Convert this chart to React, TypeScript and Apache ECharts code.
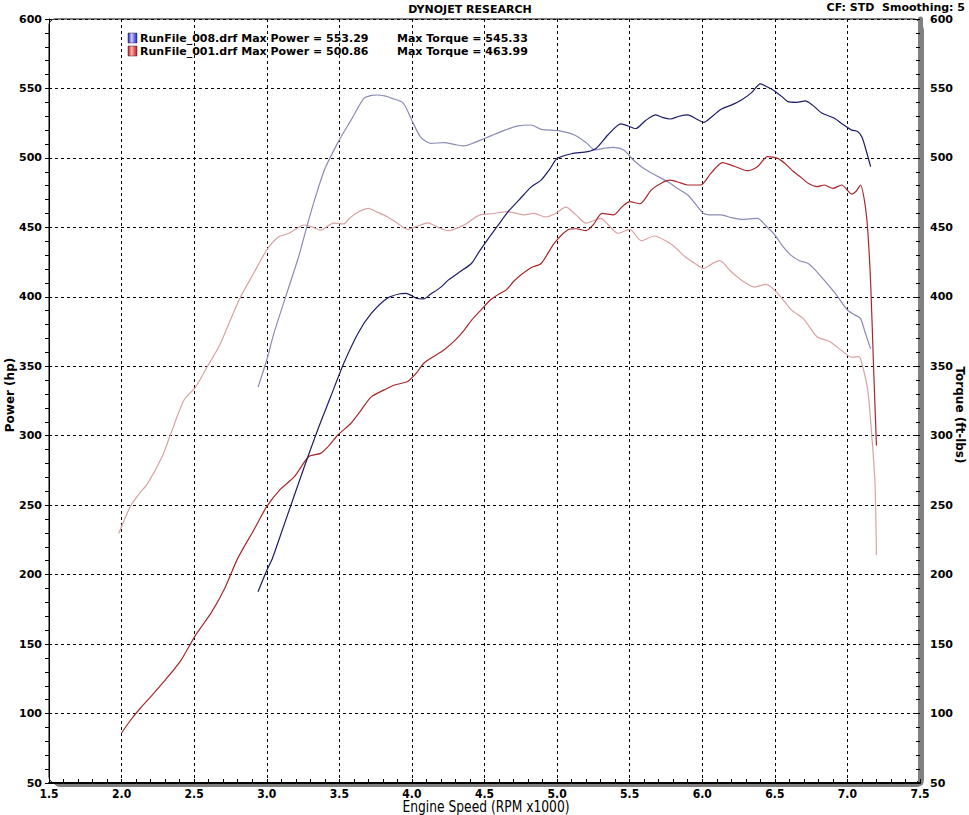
import React, { useEffect, useRef } from "react";
import * as echarts from "echarts";

// ---------- data ----------
const run008PowerRpm = [2.94, 3.0, 3.04, 3.1, 3.17, 3.26, 3.35, 3.44, 3.53, 3.63, 3.72, 3.83, 3.91, 3.96, 4.03, 4.08, 4.13, 4.2, 4.25, 4.33, 4.41, 4.46, 4.52, 4.59, 4.66, 4.74, 4.82, 4.89, 4.95, 5.0, 5.1, 5.21, 5.27, 5.35, 5.44, 5.49, 5.54, 5.61, 5.68, 5.73, 5.78, 5.84, 5.9, 5.96, 6.01, 6.07, 6.13, 6.2, 6.27, 6.34, 6.4, 6.45, 6.5, 6.55, 6.59, 6.65, 6.71, 6.76, 6.82, 6.91, 6.97, 7.03, 7.07, 7.1, 7.13, 7.16];
const run008PowerHp = [187.7, 203, 212, 230, 251, 278, 304, 328, 352, 374, 388, 399, 402, 402.5, 399, 398.5, 402, 407, 412, 418, 424, 432, 441, 451, 461, 470, 479, 484, 492, 499.5, 503, 504.5, 507, 516.5, 524.5, 523, 521, 527, 531, 529, 528, 530, 531, 528, 525.6, 530, 535, 538, 541.7, 547, 553.3, 551, 548, 544, 540.5, 540, 541, 538, 532.5, 528.5, 524, 520, 519, 515, 505, 493.7];

const run008TorqueRpm = [2.94, 3.0, 3.05, 3.13, 3.22, 3.28, 3.33, 3.4, 3.5, 3.58, 3.67, 3.72, 3.76, 3.82, 3.86, 3.94, 4.0, 4.06, 4.13, 4.22, 4.3, 4.36, 4.43, 4.5, 4.57, 4.64, 4.73, 4.82, 4.89, 5.01, 5.12, 5.2, 5.26, 5.33, 5.39, 5.46, 5.52, 5.58, 5.67, 5.76, 5.83, 5.9, 5.96, 6.01, 6.07, 6.13, 6.2, 6.27, 6.38, 6.44, 6.5, 6.55, 6.61, 6.67, 6.73, 6.79, 6.84, 6.92, 7.0, 7.05, 7.09, 7.12, 7.16];
const run008TorqueFtLbs = [335, 354.5, 374, 400, 429, 452, 470, 492, 513, 527, 543, 545, 545.3, 544.5, 543, 539.5, 527, 515, 510.5, 511, 509.5, 508.6, 511, 514, 517, 520, 523, 523.7, 520.6, 519.6, 516.5, 511, 505.7, 507, 507.6, 505.7, 499, 493.7, 488, 483, 478, 473.3, 466, 460, 459, 459, 457, 455.8, 456.5, 451, 444.5, 437, 430, 426, 424, 418, 412, 402, 390.5, 387, 384.5, 375, 362.5];

const run001PowerRpm = [2.0, 2.06, 2.13, 2.2, 2.3, 2.41, 2.51, 2.62, 2.71, 2.8, 2.91, 3.0, 3.09, 3.19, 3.29, 3.37, 3.43, 3.49, 3.58, 3.65, 3.72, 3.81, 3.88, 3.97, 4.03, 4.08, 4.15, 4.22, 4.3, 4.36, 4.41, 4.48, 4.54, 4.6, 4.65, 4.7, 4.75, 4.82, 4.89, 4.98, 5.07, 5.13, 5.2, 5.25, 5.31, 5.39, 5.45, 5.5, 5.57, 5.65, 5.72, 5.78, 5.85, 5.9, 5.99, 6.06, 6.14, 6.22, 6.31, 6.38, 6.45, 6.52, 6.57, 6.63, 6.68, 6.73, 6.79, 6.84, 6.9, 6.96, 7.03, 7.06, 7.09, 7.12, 7.14, 7.16, 7.18, 7.2];
const run001PowerHp = [86, 95, 104, 112, 124, 138.5, 156.5, 173, 190, 211.7, 232, 249, 261, 270.5, 285, 287.3, 293, 300.5, 309, 318.5, 328, 333, 336.5, 339, 345, 352, 357, 361.7, 369, 376, 383, 391, 397.7, 402, 405, 411, 415.7, 421, 424, 438.5, 448, 449, 447.6, 452, 460, 459, 465, 468.5, 467, 477, 482, 484, 482, 480.5, 480.5, 489, 496.6, 494, 490.8, 493.7, 500.9, 499.7, 496, 490, 486, 481.7, 479.3, 480.5, 478, 480.5, 474, 476, 480.5, 467.5, 448, 410, 350, 293];

const run001TorqueRpm = [1.98, 2.06, 2.12, 2.18, 2.28, 2.34, 2.43, 2.51, 2.59, 2.67, 2.74, 2.82, 2.91, 3.0, 3.08, 3.15, 3.26, 3.32, 3.37, 3.46, 3.53, 3.57, 3.63, 3.7, 3.76, 3.83, 3.9, 3.97, 4.04, 4.11, 4.18, 4.25, 4.36, 4.42, 4.47, 4.56, 4.66, 4.77, 4.84, 4.92, 4.99, 5.06, 5.13, 5.2, 5.3, 5.36, 5.42, 5.5, 5.58, 5.67, 5.76, 5.82, 5.88, 5.95, 6.01, 6.07, 6.12, 6.2, 6.27, 6.36, 6.44, 6.52, 6.61, 6.7, 6.79, 6.88, 6.97, 7.03, 7.08, 7.1, 7.14, 7.17, 7.19, 7.2];
const run001TorqueFtLbs = [229.6, 249, 258, 265.7, 285, 301.7, 325.7, 335, 349.7, 364, 381, 400, 417, 433.7, 443, 445.6, 451.7, 450, 448, 453, 452.5, 456.5, 461, 463.6, 461, 457.7, 453, 448.6, 451, 453.3, 450, 447.6, 451.7, 456, 459, 460, 461.4, 459, 460, 457.5, 460, 464.5, 459, 453, 456.5, 451, 445.7, 448.6, 440.4, 443.8, 439.6, 435, 429, 424, 420.5, 424, 426, 418, 412, 407, 409, 402.5, 391, 383.8, 371.3, 367.7, 360.5, 356.5, 357, 352, 333, 297, 265.8, 214];

const legendRunNames = ["RunFile_008.drf", "RunFile_001.drf"];
const legendMaxPower = ["553.29", "500.86"];
const legendMaxTorque = ["545.33", "463.99"];

const titleText = "DYNOJET RESEARCH";
const cornerText = "CF: STD  Smoothing: 5";
const xAxisTitle = "Engine Speed (RPM x1000)";
const leftAxisTitle = "Power (hp)";
const rightAxisTitle = "Torque (ft-lbs)";

const xMin = 1.5, xMax = 7.5, xStep = 0.5;
const yMin = 50, yMax = 600, yStep = 50;

const pairs = (xs: number[], ys: number[]) => xs.map((x, i) => [x, ys[i]]);

const W = 969, H = 815;
const G = { left: 49, right: 49, top: 19, bottom: 32 };

export default function App() {
  const ref = useRef<HTMLDivElement>(null);
  useEffect(() => {
    if (!ref.current) return;
    const chart = echarts.init(ref.current, undefined, { renderer: "svg" });
    const boldFont = "DejaVu Sans";
    const gw = W - G.left - G.right;
    const gh = H - G.top - G.bottom;
    const yLabel = {
      fontFamily: boldFont,
      fontWeight: "bold" as const,
      fontSize: 11,
      color: "#000",
    };
    const series = [
      { data: pairs(run001TorqueRpm, run001TorqueFtLbs), color: "#d9a3a3", y: 1 },
      { data: pairs(run008TorqueRpm, run008TorqueFtLbs), color: "#8a8cb8", y: 1 },
      { data: pairs(run001PowerRpm, run001PowerHp), color: "#a8282c", y: 0 },
      { data: pairs(run008PowerRpm, run008PowerHp), color: "#1c1c68", y: 0 },
    ].map((s) => ({
      type: "line" as const,
      data: s.data,
      yAxisIndex: s.y,
      showSymbol: false,
      smooth: 0.25,
      lineStyle: { color: s.color, width: 1.2 },
      z: 5,
    }));

    const legendGraphics: any[] = [];
    const sqColors = [
      ["#c8c8ff", "#2020c0"],
      ["#ffb0b0", "#c01818"],
    ];
    legendRunNames.forEach((name, i) => {
      const y = 38 + i * 13;
      legendGraphics.push({
        type: "rect",
        shape: { x: 128, y: y - 5, width: 9, height: 10 },
        style: {
          fill: new echarts.graphic.LinearGradient(0, 0, 1, 0, [
            { offset: 0, color: sqColors[i][1] },
            { offset: 0.4, color: sqColors[i][0] },
            { offset: 1, color: sqColors[i][1] },
          ]),
          stroke: "#333",
          lineWidth: 0.5,
        },
        z: 20,
      });
      legendGraphics.push({
        type: "text",
        x: 140,
        y,
        style: {
          text: `${name} Max Power = ${legendMaxPower[i]}`,
          font: `bold 11px "${boldFont}"`,
          fill: "#000",
          verticalAlign: "middle",
        },
        z: 20,
      });
      legendGraphics.push({
        type: "text",
        x: 397,
        y,
        style: {
          text: `Max Torque = ${legendMaxTorque[i]}`,
          font: `bold 11px "${boldFont}"`,
          fill: "#000",
          verticalAlign: "middle",
        },
        z: 20,
      });
    });

    chart.setOption({
      animation: false,
      backgroundColor: "#fff",
      grid: { left: G.left, right: G.right, top: G.top, bottom: G.bottom, containLabel: false },
      xAxis: {
        type: "value",
        min: xMin,
        max: xMax,
        interval: xStep,
        axisLine: { show: true, lineStyle: { color: "#000", width: 2 } },
        axisTick: { show: true, inside: true, length: 4, lineStyle: { color: "#000" } },
        minorTick: { show: true, splitNumber: 5, length: 4, lineStyle: { color: "#000" } },
        axisLabel: {
          formatter: (v: number) => v.toFixed(1),
          fontFamily: "Liberation Sans Narrow, DejaVu Sans Condensed, sans-serif",
          fontWeight: "bold",
          fontSize: 12,
          color: "#000",
          margin: 5,
        },
        splitLine: { show: true, lineStyle: { color: "#000", type: [3, 3], width: 1 } },
      },
      yAxis: [
        {
          type: "value",
          min: yMin,
          max: yMax,
          interval: yStep,
          position: "left",
          axisLine: { show: true, lineStyle: { color: "#000", width: 1 } },
          axisTick: { show: true, length: 4, lineStyle: { color: "#000" } },
          minorTick: { show: true, splitNumber: 5, length: 4, lineStyle: { color: "#000" } },
          axisLabel: { ...yLabel, margin: 7 },
          splitLine: { show: true, lineStyle: { color: "#000", type: [3, 3], width: 1 } },
        },
        {
          type: "value",
          min: yMin,
          max: yMax,
          interval: yStep,
          position: "right",
          axisLine: { show: true, lineStyle: { color: "#808080", width: 5 } },
          axisTick: { show: true, inside: true, length: 4, lineStyle: { color: "#000" } },
          minorTick: { show: true, splitNumber: 5, length: 4, lineStyle: { color: "#000" } },
          axisLabel: { ...yLabel, margin: 10 },
          splitLine: { show: false },
        },
      ],
      graphic: [
        {
          type: "rect",
          shape: { x: G.left + 4, y: G.top + 4, width: gw, height: gh, r: 7 },
          style: { fill: "#808080" },
          z: -10,
          silent: true,
        },
        {
          type: "rect",
          shape: { x: G.left, y: G.top, width: gw, height: gh, r: 6 },
          style: { fill: "#fff", stroke: "#000", lineWidth: 1 },
          z: -9,
          silent: true,
        },
        {
          type: "text",
          x: 470,
          y: 9,
          style: {
            text: titleText,
            font: `bold 11px "${boldFont}"`,
            fill: "#000",
            align: "center",
            verticalAlign: "middle",
          },
        },
        {
          type: "text",
          x: 965,
          y: 7,
          style: {
            text: cornerText,
            font: `bold 11px "${boldFont}"`,
            fill: "#000",
            align: "right",
            verticalAlign: "middle",
          },
        },
        {
          type: "text",
          x: 486,
          y: 807,
          scaleX: 0.82,
          style: {
            text: xAxisTitle,
            font: `15px "DejaVu Sans", sans-serif`,
            fill: "#000",
            align: "center",
            verticalAlign: "middle",
          },
        },
        {
          type: "text",
          x: 10,
          y: 395,
          rotation: Math.PI / 2,
          style: {
            text: leftAxisTitle,
            font: `bold 12px "${boldFont}"`,
            fill: "#000",
            align: "center",
            verticalAlign: "middle",
          },
        },
        {
          type: "text",
          x: 960,
          y: 415,
          rotation: -Math.PI / 2,
          style: {
            text: rightAxisTitle,
            font: `bold 12px "${boldFont}"`,
            fill: "#000",
            align: "center",
            verticalAlign: "middle",
          },
        },
        ...legendGraphics,
      ],
      series,
    });
    return () => chart.dispose();
  }, []);
  return (
    <div
      ref={ref}
      style={{ position: "fixed", left: 0, top: 0, width: W, height: H, background: "#fff" }}
    />
  );
}
